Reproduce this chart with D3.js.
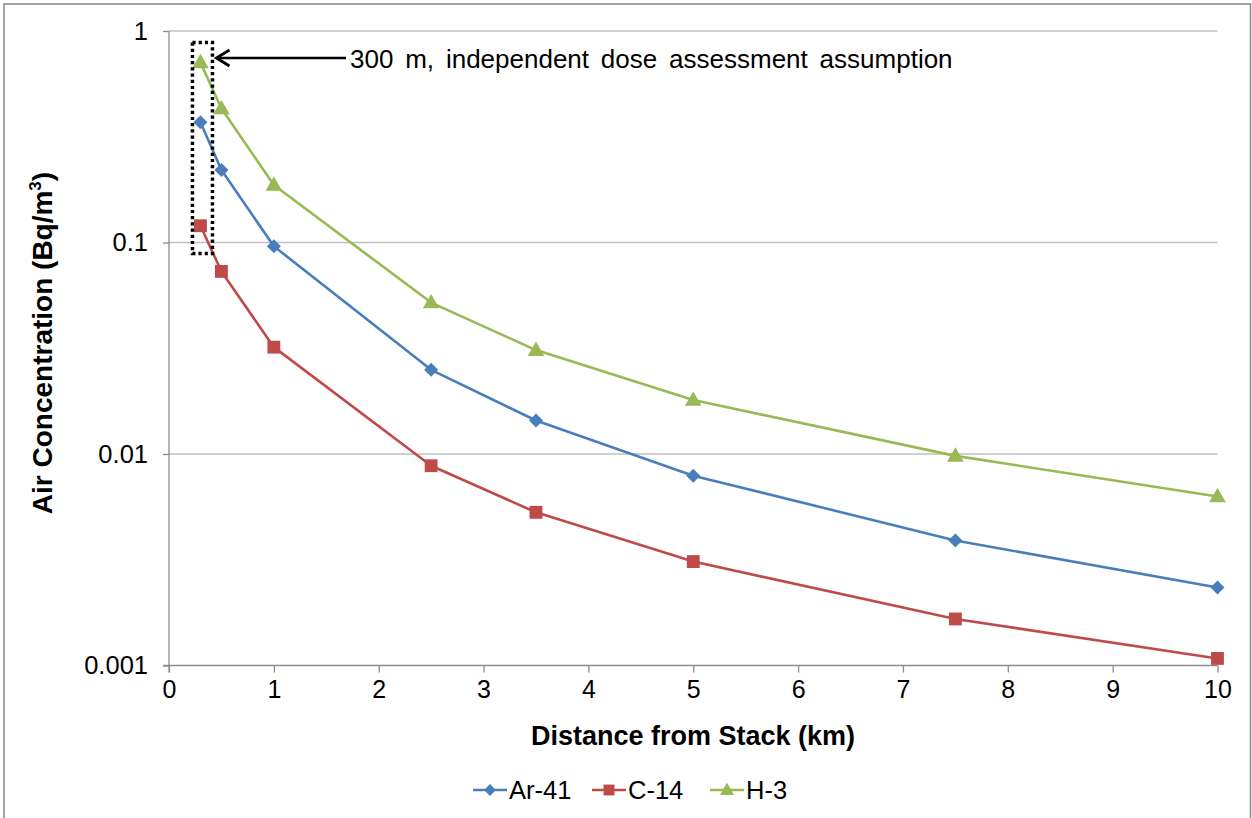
<!DOCTYPE html>
<html>
<head>
<meta charset="utf-8">
<script src="https://cdn.jsdelivr.net/npm/d3@7"></script>
<style>
  html, body { margin: 0; padding: 0; background: #fff; }
  svg { display: block; font-family: "Liberation Sans", Arial, sans-serif; }
</style>
</head>
<body>
<svg id="chart" width="1252" height="818"></svg>
<script>
// Distances downwind of the stack (km)
const distances = [0.3, 0.5, 1, 2.5, 3.5, 5, 7.5, 10];
// Air concentration (Bq/m3) per nuclide
const ar41 = [0.37, 0.22, 0.096, 0.025, 0.0144, 0.0079, 0.0039, 0.00234];
const c14  = [0.12, 0.073, 0.032, 0.0088, 0.0053, 0.0031, 0.00166, 0.00108];
const h3   = [0.71, 0.43, 0.187, 0.052, 0.031, 0.018, 0.0098, 0.0063];

const xTicks = [0, 1, 2, 3, 4, 5, 6, 7, 8, 9, 10];
const yTicks = [0.001, 0.01, 0.1, 1];
const yTickLabels = ["0.001", "0.01", "0.1", "1"];

const seriesNames = ["Ar-41", "C-14", "H-3"];
const seriesColors = ["#4a7ebb", "#be4b48", "#98b954"];
const seriesSymbols = ["diamond", "square", "triangle"];

const series = [ar41, c14, h3].map((vals, i) => ({
  name: seriesNames[i],
  color: seriesColors[i],
  symbol: seriesSymbols[i],
  points: vals.map((v, j) => ({ x: distances[j], y: v }))
}));

// Marker shapes: diamond is a square turned 45 degrees
function markerPath(kind, scale) {
  const k = scale || 1;
  if (kind === "diamond") return d3.symbol().type(d3.symbolSquare).size(98 * k * k)();
  if (kind === "square") return d3.symbol().type(d3.symbolSquare).size(165 * k * k)();
  return d3.symbol().type(d3.symbolTriangle).size(120 * k * k)();
}
function markerRotate(kind) { return kind === "diamond" ? " rotate(45)" : ""; }

const svg = d3.select("#chart");

// Outer chart frame
svg.append("rect")
  .attr("x", 4).attr("y", 4).attr("width", 1246.5).attr("height", 830)
  .attr("fill", "#fff").attr("stroke", "#878787").attr("stroke-width", 1.5);

const x = d3.scaleLinear().domain([0, 10]).range([169, 1217.5]);
const y = d3.scaleLog().domain([0.001, 1]).range([665.5, 31]);

// Horizontal gridlines
svg.append("g").selectAll("line")
  .data(yTicks.filter(v => v > 0.001))
  .join("line")
  .attr("x1", x(0)).attr("x2", x(10))
  .attr("y1", d => y(d)).attr("y2", d => y(d))
  .attr("stroke", "#c0c0c0").attr("stroke-width", 1.3);

// X axis
const xAxis = svg.append("g")
  .attr("transform", `translate(0,${y(0.001)})`)
  .call(d3.axisBottom(x).tickValues(xTicks).tickSize(7).tickPadding(8).tickFormat(d3.format("d")));
xAxis.select(".domain").attr("stroke", "#8c8c8c").attr("stroke-width", 1.3)
  .attr("d", `M${x(0) - 6},0H${x(10)}`);
xAxis.selectAll(".tick line").attr("stroke", "#8c8c8c").attr("stroke-width", 1.3);
xAxis.selectAll(".tick text").attr("fill", "#000").attr("font-size", 25)
  .attr("font-family", "Liberation Sans, Arial, sans-serif");

// Y axis
const yAxis = svg.append("g")
  .attr("transform", `translate(${x(0)},0)`)
  .call(d3.axisLeft(y).tickValues(yTicks).tickSize(6).tickPadding(15)
    .tickFormat((d, i) => yTickLabels[i]));
yAxis.select(".domain").attr("stroke", "#8c8c8c").attr("stroke-width", 1.3)
  .attr("d", `M0,${y(1)}V${y(0.001) + 7}`);
yAxis.selectAll(".tick line").attr("stroke", "#8c8c8c").attr("stroke-width", 1.3);
yAxis.selectAll(".tick text").attr("fill", "#000").attr("font-size", 25.5)
  .attr("font-family", "Liberation Sans, Arial, sans-serif");

// Axis titles
svg.append("text")
  .attr("x", 693).attr("y", 745)
  .attr("text-anchor", "middle")
  .attr("font-size", 27).attr("font-weight", "bold")
  .text("Distance from Stack (km)");

const yTitle = svg.append("text")
  .attr("transform", "translate(52,343) rotate(-90)")
  .attr("text-anchor", "middle")
  .attr("font-size", 28).attr("font-weight", "bold");
yTitle.append("tspan").text("Air Concentration (Bq/m");
yTitle.append("tspan").attr("font-size", 17).attr("dy", -11).text("3");
yTitle.append("tspan").attr("dy", 11).text(")");

// Series lines and markers
const line = d3.line().x(d => x(d.x)).y(d => y(d.y));
const sg = svg.append("g").selectAll("g").data(series).join("g");
sg.append("path")
  .attr("d", d => line(d.points))
  .attr("fill", "none")
  .attr("stroke", d => d.color)
  .attr("stroke-width", 2.6)
  .attr("stroke-linejoin", "round");
sg.each(function (s) {
  d3.select(this).selectAll("path.m")
    .data(s.points)
    .join("path")
    .attr("class", "m")
    .attr("transform", d => `translate(${x(d.x)},${y(d.y) + (s.symbol === "triangle" ? 1 : 0)})` + markerRotate(s.symbol))
    .attr("d", markerPath(s.symbol))
    .attr("fill", s.color);
});

// Dotted outline around the 300 m points
const boxX0 = x(0.3) - 8, boxX1 = x(0.3) + 12;
svg.append("rect")
  .attr("x", boxX0).attr("y", 42.5)
  .attr("width", boxX1 - boxX0).attr("height", 211)
  .attr("fill", "none")
  .attr("stroke", "#000")
  .attr("stroke-width", 3.5)
  .attr("stroke-dasharray", "3.2,3");

// Arrow pointing at the outline
svg.append("line")
  .attr("x1", 346).attr("x2", boxX1 + 4)
  .attr("y1", 58).attr("y2", 58)
  .attr("stroke", "#000").attr("stroke-width", 2.5);
svg.append("path")
  .attr("d", `M${boxX1 + 17},${50} L${boxX1 + 4},58 L${boxX1 + 17},${66}`)
  .attr("fill", "none").attr("stroke", "#000").attr("stroke-width", 2.8);

svg.append("text")
  .attr("x", 350).attr("y", 68)
  .attr("font-size", 26)
  .attr("word-spacing", 4.6)
  .text("300 m, independent dose assessment assumption");

// Legend
const legendX = [473, 592, 710];
const lg = svg.append("g").selectAll("g")
  .data(series.map((s, i) => ({ ...s, lx: legendX[i] })))
  .join("g")
  .attr("transform", d => `translate(${d.lx},790)`);
lg.append("line")
  .attr("x1", 0).attr("x2", 34)
  .attr("stroke", d => d.color).attr("stroke-width", 2.6);
lg.append("path")
  .attr("transform", d => `translate(17,${d.symbol === "triangle" ? 1 : 0})` + markerRotate(d.symbol))
  .attr("d", d => markerPath(d.symbol, 0.85))
  .attr("fill", d => d.color);
lg.append("text")
  .attr("x", 36).attr("y", 9)
  .attr("font-size", 25.5)
  .text(d => d.name);
</script>
</body>
</html>
